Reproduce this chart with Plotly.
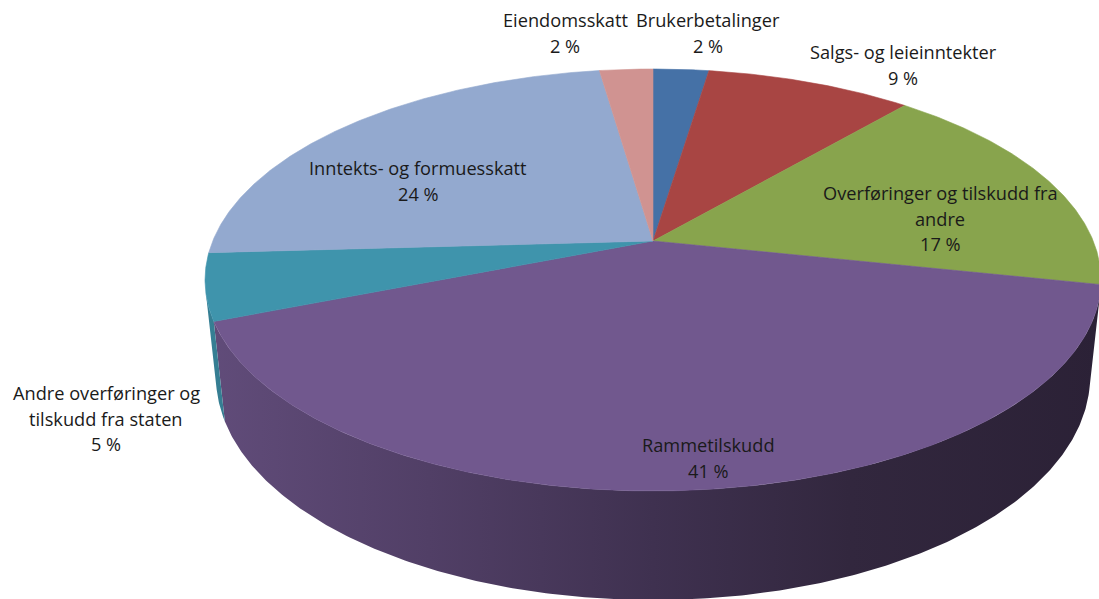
import numpy as np
import plotly.graph_objects as go

# ---------------- data ----------------
categories = [
    "Brukerbetalinger",
    "Salgs- og leieinntekter",
    "Overføringer og tilskudd fra andre",
    "Rammetilskudd",
    "Andre overføringer og tilskudd fra staten",
    "Inntekts- og formuesskatt",
    "Eiendomsskatt",
]
values = [2.4, 8.9, 17.0, 40.7, 5.1, 23.6, 2.3]
label_lines = [
    ["Brukerbetalinger"],
    ["Salgs- og leieinntekter"],
    ["Overføringer og tilskudd fra", "andre"],
    ["Rammetilskudd"],
    ["Andre overføringer og", "tilskudd fra staten"],
    ["Inntekts- og formuesskatt"],
    ["Eiendomsskatt"],
]

# ---------------- styles / layout ----------------
colors = ["#4571A6", "#A84543", "#88A44D", "#71588E", "#3F94AC", "#93A9CF", "#D09391"]
# label block anchor (center x, first line y) in pixel space
label_pos = [(708, 20), (903, 52), (940, 193), (708, 445), (106, 393), (418, 168), (565, 20)]
LINE_H = 25.5
FONT = dict(family="'Open Sans', Lato, sans-serif", size=18.2, color="#1a1a1a")

W, H = 1099, 599
PHI = np.radians(27.57)
DIST = 4.795
FOC = 2111.0
CX, CY = 653.0, 241.0
THICK = 0.25
cphi, sphi = np.cos(PHI), np.sin(PHI)


def proj(X, Y, Z):
    vx = X
    vy = Y - DIST * sphi
    vz = Z + DIST * cphi
    xc = vx
    yc = vy * cphi + vz * sphi
    zc = -vy * sphi + vz * cphi
    return CX + FOC * xc / zc, CY - FOC * yc / zc


def hex_rgb(h):
    h = h.lstrip("#")
    return tuple(int(h[i:i + 2], 16) for i in (0, 2, 4))


def shade(h, f):
    r, g, b = hex_rgb(h)
    return "rgb(%d,%d,%d)" % (round(r * f), round(g * f), round(b * f))


total = float(sum(values))
fracs = np.array(values) / total
cum = np.concatenate([[0.0], np.cumsum(fracs)])
angles = 2 * np.pi * cum

fig = go.Figure()

# ----- side walls (only the part facing the camera) -----
th_lo = np.arccos(-1.0 / (DIST * cphi))
th_hi = 2 * np.pi - th_lo
xs_all = []
for t in np.linspace(th_lo, th_hi, 400):
    for yy in (0.0, -THICK):
        xs_all.append(proj(np.sin(t), yy, np.cos(t))[0])
gx0, gx1 = min(xs_all), max(xs_all)

for i in range(len(values)):
    a, b = angles[i], angles[i + 1]
    a2, b2 = max(a, th_lo), min(b, th_hi)
    if b2 <= a2:
        continue
    t = np.linspace(a2, b2, max(8, int((b2 - a2) * 120)))
    tx, ty = proj(np.sin(t), np.zeros_like(t), np.cos(t))
    bx, by = proj(np.sin(t), -THICK * np.ones_like(t), np.cos(t))
    px = np.concatenate([tx, bx[::-1], tx[:1]])
    py = np.concatenate([ty, by[::-1], ty[:1]])
    base = colors[i]
    fig.add_trace(go.Scatter(
        x=px, y=py, mode="lines", fill="toself",
        line=dict(width=0, color=shade(base, 0.6)),
        fillgradient=dict(
            type="horizontal",
            colorscale=[[0, shade(base, 0.86)], [0.25, shade(base, 0.72)],
                        [0.5, shade(base, 0.56)], [0.72, shade(base, 0.44)],
                        [1, shade(base, 0.38)]],
            start=gx0, stop=gx1,
        ),
        hoverinfo="skip", showlegend=False,
    ))

# ----- top faces -----
ax0, ay0 = proj(0.0, 0.0, 0.0)
for i in range(len(values)):
    a, b = angles[i], angles[i + 1]
    t = np.linspace(a, b, max(6, int((b - a) * 150)))
    tx, ty = proj(np.sin(t), np.zeros_like(t), np.cos(t))
    px = np.concatenate([[ax0], tx, [ax0]])
    py = np.concatenate([[ay0], ty, [ay0]])
    fig.add_trace(go.Scatter(
        x=px, y=py, mode="lines", fill="toself",
        fillcolor=colors[i], line=dict(width=0.6, color=colors[i]),
        hoverinfo="text", text=categories[i], showlegend=False,
        name=categories[i],
    ))

# ----- labels -----
annotations = []
for i in range(len(values)):
    lines = label_lines[i] + ["%d %%" % round(fracs[i] * 100)]
    x0, y0 = label_pos[i]
    for k, ln in enumerate(lines):
        annotations.append(dict(
            x=x0, y=y0 + k * LINE_H, text=ln, showarrow=False,
            xref="x", yref="y", xanchor="center", yanchor="middle",
            font=FONT,
        ))

fig.update_layout(
    width=W, height=H,
    margin=dict(l=0, r=0, t=0, b=0),
    paper_bgcolor="white", plot_bgcolor="white",
    xaxis=dict(range=[0, W], visible=False, fixedrange=True),
    yaxis=dict(range=[H, 0], visible=False, fixedrange=True),
    annotations=annotations,
    showlegend=False,
)

fig.write_html(
    "out.html",
    config={"displayModeBar": False},
    post_script="document.body.style.margin='0';document.body.style.overflow='hidden';",
)
